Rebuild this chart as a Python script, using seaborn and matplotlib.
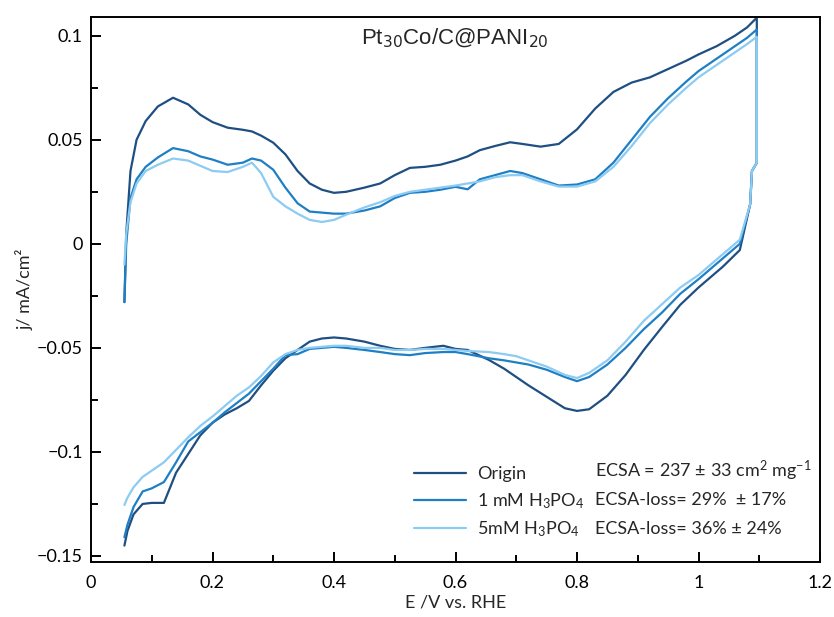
import numpy as np
import pandas as pd
import matplotlib
matplotlib.use("Agg")
import matplotlib.pyplot as plt
import seaborn as sns
from matplotlib.lines import Line2D
from matplotlib.ticker import MultipleLocator, FixedLocator

# ---------------- data ----------------
series_names = ["Origin", "1 mM H$_3$PO$_4$", "5mM H$_3$PO$_4$"]
ecsa_texts = ["ECSA = 237 ± 33 cm$^2$ mg$^{-1}$",
              "ECSA-loss= 29%  ± 17%",
              "ECSA-loss= 36% ± 24%"]
colors = ["#1f4f82", "#1f7fc4", "#8ccbf2"]

E_up = [0.055, 0.058, 0.065, 0.075, 0.09, 0.11, 0.135, 0.16, 0.18, 0.2, 0.225, 0.25,
        0.265, 0.28, 0.30, 0.32, 0.34, 0.36, 0.38, 0.40, 0.42, 0.45, 0.476, 0.5, 0.525,
        0.55, 0.575, 0.6, 0.62, 0.64, 0.665, 0.69, 0.71, 0.74, 0.77, 0.8, 0.83, 0.86,
        0.89, 0.92, 0.95, 0.98, 1.0, 1.03, 1.06, 1.08, 1.096]
j_up_origin = [-0.028, 0.005, 0.035, 0.05, 0.059, 0.066, 0.0702, 0.067, 0.062, 0.0585, 0.0558, 0.0548,
               0.054, 0.052, 0.0486, 0.043, 0.035, 0.029, 0.026, 0.0245, 0.025, 0.027, 0.029, 0.033, 0.0365,
               0.037, 0.038, 0.040, 0.042, 0.045, 0.047, 0.0488, 0.048, 0.0467, 0.048, 0.055, 0.065, 0.073,
               0.0775, 0.080, 0.084, 0.088, 0.091, 0.095, 0.100, 0.104, 0.1087]
j_up_1mM = [-0.028, 0.0, 0.022, 0.031, 0.037, 0.0415, 0.046, 0.0445, 0.042, 0.0405, 0.038, 0.039,
            0.041, 0.040, 0.0356, 0.027, 0.0195, 0.0155, 0.015, 0.0145, 0.0145, 0.016, 0.018, 0.022, 0.0245,
            0.025, 0.026, 0.0274, 0.0262, 0.031, 0.033, 0.035, 0.034, 0.031, 0.028, 0.0285, 0.031, 0.039,
            0.050, 0.061, 0.070, 0.078, 0.083, 0.089, 0.095, 0.099, 0.103]
j_up_5mM = [-0.01, 0.005, 0.02, 0.029, 0.035, 0.038, 0.041, 0.040, 0.0375, 0.035, 0.0345, 0.037,
            0.039, 0.034, 0.0226, 0.018, 0.0145, 0.0115, 0.0105, 0.0115, 0.014, 0.0175, 0.020, 0.023, 0.025,
            0.026, 0.027, 0.028, 0.029, 0.030, 0.032, 0.033, 0.033, 0.030, 0.0275, 0.0275, 0.030, 0.037,
            0.047, 0.058, 0.067, 0.075, 0.080, 0.086, 0.092, 0.096, 0.0995]

E_down = [1.096, 1.088, 1.085, 1.068, 1.04, 1.0, 0.97, 0.94, 0.91, 0.88, 0.85, 0.82, 0.8, 0.78,
          0.75, 0.72, 0.7, 0.68, 0.655, 0.62, 0.6, 0.58, 0.55, 0.525, 0.5, 0.476, 0.45, 0.42, 0.4,
          0.38, 0.36, 0.34, 0.32, 0.30, 0.28, 0.26, 0.24, 0.22, 0.2, 0.18, 0.16, 0.14, 0.12, 0.10,
          0.085, 0.07, 0.06, 0.055]
j_down_origin = [0.039, 0.035, 0.019, -0.003, -0.011, -0.021, -0.0293, -0.040, -0.051, -0.063, -0.073, -0.0795, -0.0803, -0.079,
                 -0.0735, -0.068, -0.064, -0.060, -0.0558, -0.051, -0.0505, -0.049, -0.050, -0.051, -0.0505, -0.049, -0.047, -0.0455, -0.045,
                 -0.0455, -0.047, -0.051, -0.055, -0.061, -0.068, -0.0755, -0.079, -0.082, -0.086, -0.092, -0.101, -0.110, -0.1245, -0.1245,
                 -0.125, -0.130, -0.138, -0.145]
j_down_1mM = [0.039, 0.035, 0.019, 0.0, -0.007, -0.017, -0.024, -0.033, -0.041, -0.050, -0.058, -0.064, -0.066, -0.064,
              -0.0605, -0.058, -0.057, -0.056, -0.055, -0.053, -0.052, -0.052, -0.0525, -0.0535, -0.053, -0.052, -0.051, -0.050, -0.0495,
              -0.050, -0.0505, -0.053, -0.0535, -0.060, -0.066, -0.072, -0.0765, -0.081, -0.086, -0.0905, -0.095, -0.105, -0.1145, -0.1175,
              -0.119, -0.1265, -0.135, -0.141]
j_down_5mM = [0.039, 0.035, 0.019, 0.002, -0.005, -0.015, -0.021, -0.029, -0.037, -0.047, -0.056, -0.062, -0.0645, -0.063,
              -0.059, -0.056, -0.054, -0.053, -0.052, -0.0515, -0.051, -0.0505, -0.0505, -0.051, -0.051, -0.050, -0.050, -0.049, -0.049,
              -0.0495, -0.050, -0.051, -0.053, -0.057, -0.0635, -0.069, -0.073, -0.078, -0.083, -0.0875, -0.093, -0.099, -0.105, -0.109,
              -0.112, -0.117, -0.122, -0.1255]

x_ticks = [0, 0.2, 0.4, 0.6, 0.8, 1.0, 1.2]
x_ticklabels = ["0", "0.2", "0.4", "0.6", "0.8", "1", "1.2"]
y_ticks = [-0.15, -0.1, -0.05, 0, 0.05, 0.1]
y_ticklabels = ["\u22120.15", "\u22120.1", "\u22120.05", "0", "0.05", "0.1"]

ups = [j_up_origin, j_up_1mM, j_up_5mM]
downs = [j_down_origin, j_down_1mM, j_down_5mM]

frames = []
for name, ju, jd in zip(series_names, ups, downs):
    E = list(E_up) + list(E_down)
    j = list(ju) + list(jd)
    frames.append(pd.DataFrame({"E": E, "j": j, "series": name, "order": np.arange(len(E))}))
df = pd.concat(frames, ignore_index=True)

# ---------------- plot ----------------
sns.set_theme(style="ticks")
plt.rcParams["font.family"] = ["Lato", "DejaVu Sans"]
plt.rcParams["mathtext.fontset"] = "custom"
plt.rcParams["mathtext.rm"] = "Lato"
plt.rcParams["mathtext.it"] = "Lato:italic"

fig = plt.figure(figsize=(8.34, 6.17), dpi=100)
ax = fig.add_axes([91/834, 1-562/617, (820-91)/834, (562-17)/617])

for name, col in zip(series_names, colors):
    sub = df[df["series"] == name].sort_values("order")
    sns.lineplot(data=sub, x="E", y="j", sort=False, estimator=None, color=col,
                 linewidth=1.6, ax=ax, legend=False)

ax.set_xlim(0, 1.2)
ax.set_ylim(-0.1529, 0.109)
ax.xaxis.set_major_locator(FixedLocator(x_ticks))
ax.set_xticklabels(x_ticklabels)
ax.xaxis.set_minor_locator(MultipleLocator(0.1))
ax.yaxis.set_major_locator(FixedLocator(y_ticks))
ax.set_yticklabels(y_ticklabels)
ax.yaxis.set_minor_locator(MultipleLocator(0.025))
ax.tick_params(which="both", direction="in", top=False, right=False, width=1.4,
               labelsize=13, colors="black")
ax.tick_params(which="major", length=7)
ax.tick_params(axis="y", which="major", pad=6)
ax.tick_params(axis="x", which="major", pad=9)
ax.tick_params(which="minor", length=5)
for s in ax.spines.values():
    s.set_linewidth(1.4)
    s.set_color("black")
    s.set_visible(True)

ax.set_xlabel("E /V vs. RHE", fontsize=13, labelpad=3)
ax.set_ylabel("j/ mA/cm\u00b2", fontsize=13, labelpad=2)

fig.text(455/834, 1-38/617, "Pt$_{30}$Co/C@PANI$_{20}$", ha="center", va="center",
         fontsize=16, family="Liberation Sans", math_fontfamily="dejavusans")

handles = [Line2D([0], [0], color=c, lw=1.6) for c in colors]
leg = ax.legend(handles, series_names, loc="upper left",
                bbox_to_anchor=(405/834, 1-457/617), bbox_transform=fig.transFigure,
                frameon=False, fontsize=13, handlelength=2.9, handletextpad=0.6,
                labelspacing=0.5, borderpad=0)

ecsa_y = [471, 500, 529]
for t, yy in zip(ecsa_texts, ecsa_y):
    fig.text(595/834, 1-yy/617, t, ha="left", va="center", fontsize=13)

fig.savefig("out.png", dpi=100)
